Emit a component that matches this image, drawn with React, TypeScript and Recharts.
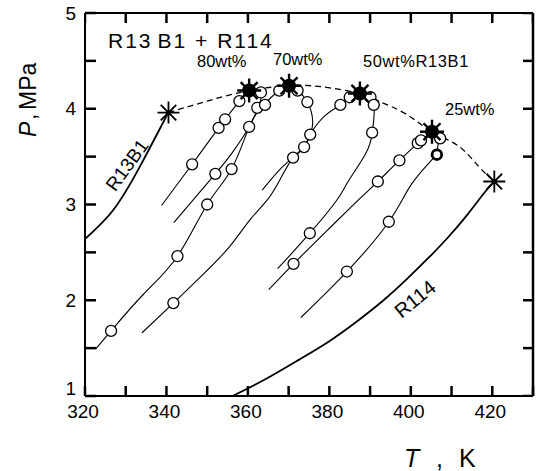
import React from 'react';
import { ComposedChart, Line, Scatter, XAxis, YAxis, ReferenceLine } from 'recharts';

type Pt = [number, number];

// Saturation curves of the pure components (T in K, P in MPa)
const R13B1_SAT: Pt[] = [[320, 2.64], [326.9, 2.94], [333.4, 3.39], [339.1, 3.85], [340.5, 3.96]];
const R114_SAT: Pt[] = [
  [356.2, 1.0], [364.5, 1.18], [372.6, 1.38], [379.9, 1.57], [386.5, 1.77], [393.3, 2.0],
  [399, 2.22], [404.5, 2.45], [409, 2.65], [414, 2.9], [418.2, 3.13], [420.5, 3.24],
];

// Isopleths of the mixtures
const W80_BUBBLE: Pt[] = [[338.8, 2.99], [346.3, 3.42], [352.8, 3.8], [354.4, 3.89], [357.9, 4.08], [360.3, 4.19]];
const W80_DEW: Pt[] = [[341.8, 2.81], [352.0, 3.32], [356.3, 3.55], [360.3, 3.81], [362.4, 4.0], [363.2, 4.15], [360.3, 4.19]];
const W70_BUBBLE: Pt[] = [
  [322.6, 1.49], [326.4, 1.68], [334.3, 2.06], [342.7, 2.46], [350.0, 3.0], [356.0, 3.37],
  [360.3, 3.81], [363.6, 4.03], [367.7, 4.19], [370.1, 4.24],
];
const W70_DEW: Pt[] = [
  [363.5, 3.15], [367.7, 3.36], [371.1, 3.49], [373.8, 3.6], [375.3, 3.73], [375.9, 3.88],
  [374.6, 4.07], [372.2, 4.19], [370.1, 4.24],
];
const W50_BUBBLE: Pt[] = [
  [334.0, 1.66], [341.7, 1.97], [349, 2.27], [355.5, 2.56], [360.5, 2.84], [364.8, 3.05],
  [368, 3.27], [371.1, 3.49], [373.8, 3.6], [375.3, 3.73], [379, 3.93], [382.7, 4.04],
  [385, 4.12], [387.5, 4.16],
];
const W50_DEW: Pt[] = [
  [367.3, 2.33], [375.2, 2.7], [381.9, 3.05], [384.6, 3.24], [388.9, 3.53], [390.5, 3.74],
  [391.0, 3.95], [390.8, 4.06], [389.8, 4.13], [387.5, 4.16],
];
const W25_BUBBLE: Pt[] = [
  [365.1, 2.11], [371.2, 2.38], [379, 2.71], [387.2, 3.05], [391.9, 3.24], [397.2, 3.46],
  [401.7, 3.64], [402.5, 3.67], [405.2, 3.76],
];
const W25_DEW: Pt[] = [
  [373.0, 1.82], [384.3, 2.3], [394.6, 2.82], [400.3, 3.22], [405.6, 3.49], [406.6, 3.6],
  [406.8, 3.7], [405.2, 3.76],
];

// Critical locus (dashed)
const CRITICAL_LOCUS: Pt[] = [
  [340.5, 3.96], [350, 4.08], [360.3, 4.19], [370.1, 4.24], [378, 4.23], [387.5, 4.16],
  [392.1, 4.08], [398.6, 3.95], [405.2, 3.76], [411.7, 3.61], [416.6, 3.4], [420.5, 3.24],
];

// Experimental points
const MEASURED: Pt[] = [
  [326.4, 1.68], [342.7, 2.46], [350.0, 3.0], [356.0, 3.37], [352.0, 3.32], [346.3, 3.42],
  [352.8, 3.8], [354.4, 3.89], [360.3, 3.81], [362.3, 4.01], [364.2, 4.04], [357.9, 4.08],
  [363.2, 4.17], [341.7, 1.97], [371.1, 3.49], [373.8, 3.6], [375.3, 3.73], [374.6, 4.07],
  [372.2, 4.19], [367.7, 4.19], [375.2, 2.7], [371.2, 2.38], [382.7, 4.04], [385.0, 4.12],
  [390.1, 4.12], [390.9, 4.04], [390.5, 3.75], [391.9, 3.24], [397.2, 3.46], [401.7, 3.64],
  [402.5, 3.67], [407.2, 3.69], [394.6, 2.82], [384.3, 2.3],
];
const MEASURED_BOLD: Pt[] = [[406.4, 3.52]];

// Critical points
const CRIT_PURE: Pt[] = [[340.5, 3.96], [420.5, 3.24]];
const CRIT_MIX: Pt[] = [[360.3, 4.19], [370.1, 4.24], [387.5, 4.16], [405.2, 3.76]];

const X_MIN = 320;
const X_MAX = 430;
const Y_MIN = 1;
const Y_MAX = 5;
const X_TICKS = [320, 330, 340, 350, 360, 370, 380, 390, 400, 410, 420, 430];
const Y_TICKS = [1, 1.5, 2, 2.5, 3, 3.5, 4, 4.5, 5];

const toData = (a: Pt[]) => a.map(([T, P]) => ({ T, P }));

const topTicks = X_TICKS.map((T) => ({ T, P: Y_MAX }));
const rightTicks = Y_TICKS.map((P) => ({ T: X_MAX, P }));

const FONT = '"Liberation Sans", Arial, Helvetica, sans-serif';
const TICK_W = 2.5;

const BottomTick = (props: any) => {
  const { x, y, payload } = props;
  const v = payload.value;
  return (
    <g>
      <path d={`M${x},${y} L${x},${y - 10}`} stroke="#000" strokeWidth={TICK_W} fill="none" />
      {v % 20 === 0 && v <= 420 ? (
        <text x={x - 2} y={y + 22} textAnchor="middle" fontSize={19} fontFamily={FONT} fill="#000">
          {v}
        </text>
      ) : null}
    </g>
  );
};

const LeftTick = (props: any) => {
  const { x, y, payload } = props;
  const v = payload.value;
  return (
    <g>
      <path d={`M${x},${y} L${x + 11},${y}`} stroke="#000" strokeWidth={TICK_W} fill="none" />
      {Number.isInteger(v) ? (
        <text x={x - 9} y={v === 1 ? y - 8 : y} dy="0.35em" textAnchor="end" fontSize={19} fontFamily={FONT} fill="#000">
          {v}
        </text>
      ) : null}
    </g>
  );
};

const TopTickMark = (p: any) => (
  <path d={`M${p.cx},${p.cy} L${p.cx},${p.cy + 10}`} stroke="#000" strokeWidth={TICK_W} fill="none" />
);
const RightTickMark = (p: any) => (
  <path d={`M${p.cx},${p.cy} L${p.cx - 10},${p.cy}`} stroke="#000" strokeWidth={TICK_W} fill="none" />
);

const OpenCircle = (props: any) => (
  <circle cx={props.cx} cy={props.cy} r={5.5} fill="#fff" stroke="#000" strokeWidth={1.3} />
);
const BoldCircle = (props: any) => (
  <circle cx={props.cx} cy={props.cy} r={4.8} fill="#fff" stroke="#000" strokeWidth={2.8} />
);

const Asterisk = ({ cx, cy, r, w }: { cx: number; cy: number; r: number; w: number }) => {
  const spokes = [0, 45, 90, 135];
  const d = spokes
    .map((a) => {
      const rad = (a * Math.PI) / 180;
      const dx = Math.cos(rad) * r;
      const dy = Math.sin(rad) * r;
      return `M${cx - dx},${cy - dy} L${cx + dx},${cy + dy}`;
    })
    .join(' ');
  return <path d={d} stroke="#000" strokeWidth={w} fill="none" />;
};

const PureStar = (props: any) => <Asterisk cx={props.cx} cy={props.cy} r={11} w={1.8} />;
const MixStar = (props: any) => (
  <g>
    <Asterisk cx={props.cx} cy={props.cy} r={12} w={2.4} />
    <circle cx={props.cx} cy={props.cy} r={7} fill="#000" />
  </g>
);

const curves: { key: string; pts: Pt[]; w: number }[] = [
  { key: 'r13b1', pts: R13B1_SAT, w: 1.8 },
  { key: 'r114', pts: R114_SAT, w: 1.8 },
  { key: 'w80b', pts: W80_BUBBLE, w: 1.1 },
  { key: 'w80d', pts: W80_DEW, w: 1.1 },
  { key: 'w70b', pts: W70_BUBBLE, w: 1.1 },
  { key: 'w70d', pts: W70_DEW, w: 1.1 },
  { key: 'w50b', pts: W50_BUBBLE, w: 1.1 },
  { key: 'w50d', pts: W50_DEW, w: 1.1 },
  { key: 'w25b', pts: W25_BUBBLE, w: 1.1 },
  { key: 'w25d', pts: W25_DEW, w: 1.1 },
];

export default function App() {
  return (
    <div style={{ position: 'absolute', left: 0, top: 0, background: '#fff' }}>
      <ComposedChart width={537} height={471} margin={{ top: 13, right: 4, bottom: 45, left: 45 }}>
        <XAxis
          dataKey="T"
          type="number"
          domain={[X_MIN, X_MAX]}
          ticks={X_TICKS}
          allowDataOverflow
          height={30}
          tickSize={0}
          tickMargin={0}
          tickLine={false}
          tick={<BottomTick />}
          axisLine={{ stroke: '#000', strokeWidth: 2 }}
          interval={0}
        />
        <YAxis
          dataKey="P"
          type="number"
          domain={[Y_MIN, Y_MAX]}
          ticks={Y_TICKS}
          allowDataOverflow
          width={40}
          tickSize={0}
          tickMargin={0}
          tickLine={false}
          tick={<LeftTick />}
          axisLine={{ stroke: '#000', strokeWidth: 2 }}
          interval={0}
        />
        <ReferenceLine y={Y_MAX} stroke="#000" strokeWidth={2} ifOverflow="visible" />
        <ReferenceLine x={X_MAX} stroke="#000" strokeWidth={2.5} ifOverflow="visible" />
        {curves.map((c) => (
          <Line
            key={c.key}
            data={toData(c.pts)}
            dataKey="P"
            type="natural"
            stroke="#000"
            strokeWidth={c.w}
            dot={false}
            activeDot={false}
            isAnimationActive={false}
          />
        ))}
        <Line
          data={toData(CRITICAL_LOCUS)}
          dataKey="P"
          type="natural"
          stroke="#000"
          strokeWidth={1.3}
          strokeDasharray="6 4"
          dot={false}
          activeDot={false}
          isAnimationActive={false}
        />
        <Scatter data={topTicks} shape={<TopTickMark />} isAnimationActive={false} />
        <Scatter data={rightTicks} shape={<RightTickMark />} isAnimationActive={false} />
        <Scatter data={toData(MEASURED)} shape={<OpenCircle />} isAnimationActive={false} />
        <Scatter data={toData(MEASURED_BOLD)} shape={<BoldCircle />} isAnimationActive={false} />
        <Scatter data={toData(CRIT_PURE)} shape={<PureStar />} isAnimationActive={false} />
        <Scatter data={toData(CRIT_MIX)} shape={<MixStar />} isAnimationActive={false} />

        <text x={108} y={48} fontSize={21} fontFamily={FONT} letterSpacing={2} fill="#000">
          <tspan>R13</tspan>
          <tspan dx={5}>B1 + R114</tspan>
        </text>
        <text x={197} y={67} fontSize={16.5} fontFamily={FONT} fill="#000">80wt%</text>
        <text x={273} y={65} fontSize={16.5} fontFamily={FONT} fill="#000">70wt%</text>
        <text x={363} y={67} fontSize={16.5} fontFamily={FONT} letterSpacing={0.6} fill="#000">50wt%R13B1</text>
        <text x={445} y={115} fontSize={16.5} fontFamily={FONT} fill="#000">25wt%</text>
        <text
          x={127}
          y={165}
          dy="0.35em"
          textAnchor="middle"
          fontSize={19}
          fontFamily={FONT}
          transform="rotate(-54 127 165)"
          fill="#000"
        >
          R13B1
        </text>
        <text
          x={415}
          y={299}
          dy="0.35em"
          textAnchor="middle"
          fontSize={20}
          fontFamily={FONT}
          transform="rotate(-39 415 299)"
          fill="#000"
        >
          R114
        </text>
        <text y={467} fontSize={25} fontFamily={FONT} fill="#000">
          <tspan x={404} fontStyle="italic">T</tspan>
          <tspan x={436}>,</tspan>
          <tspan x={459}>K</tspan>
        </text>
        <text transform="rotate(-90)" y={36} fontSize={23} fontFamily={FONT} fill="#000">
          <tspan x={-137} fontStyle="italic">P</tspan>
          <tspan x={-120}>,</tspan>
          <tspan x={-110}>MPa</tspan>
        </text>
      </ComposedChart>
    </div>
  );
}
